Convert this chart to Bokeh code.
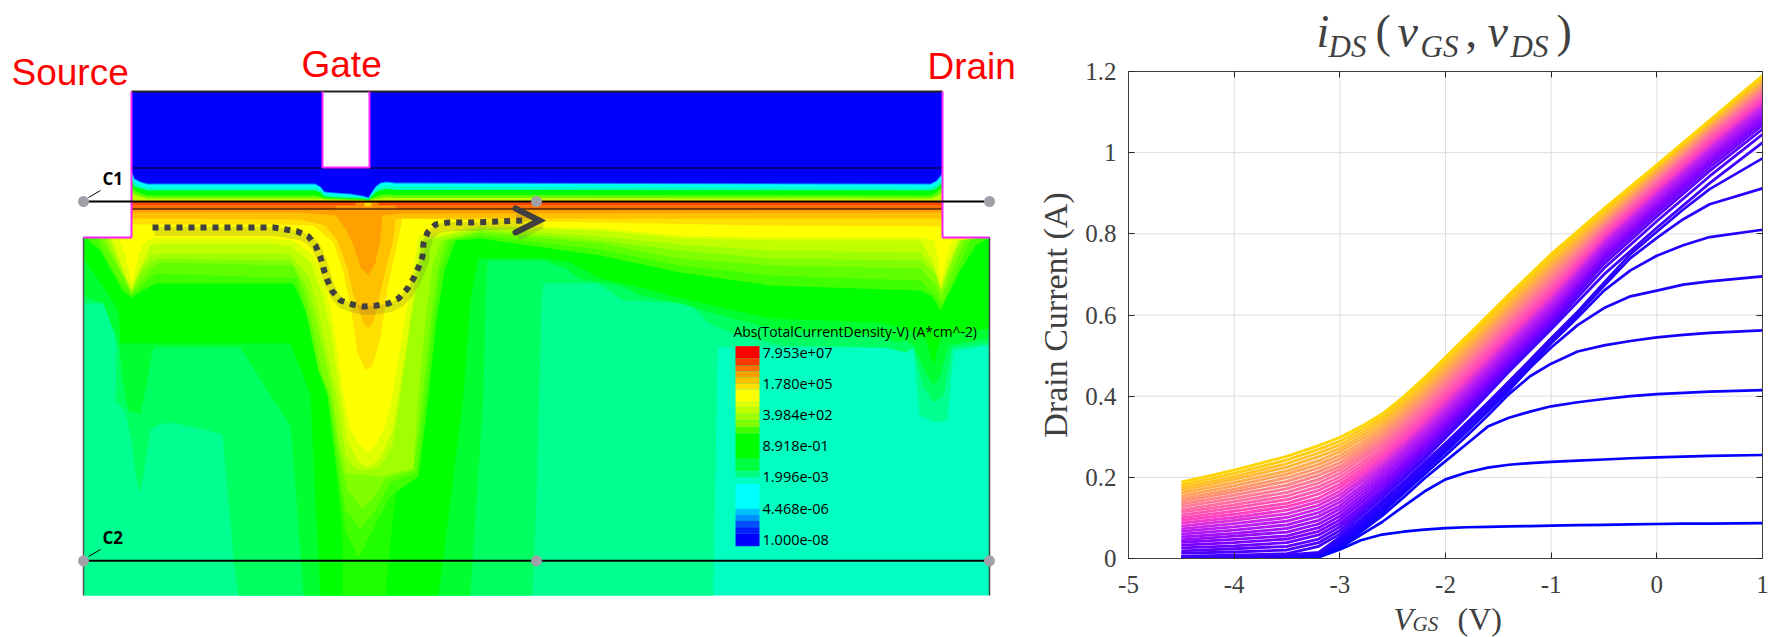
from math import pi
import numpy as np
from bokeh.core.properties import value
from bokeh.embed import file_html
from bokeh.layouts import column, row
from bokeh.models import FixedTicker, Label, LinearAxis, Range1d
from bokeh.plotting import figure
from bokeh.resources import INLINE

# ---------- right panel: values ----------
vgs_low = [-4.5,-4,-3.5,-3.2,-3,-2.8,-2.6,-2.4,-2.2,-2,-1.8,-1.6,-1.4,-1.2,-1,-0.75,-0.5,-0.25,0,0.25,0.5,1]
ids_1 = [0,0,0,.003,.022,.045,.059,.066,.071,.075,.077,.078,.079,.080,.081,.082,.083,.084,.085,.086,.086,.087]
ids_2 = [0,0,.001,.004,.026,.058,.090,.128,.165,.195,.212,.224,.231,.235,.238,.241,.244,.247,.249,.251,.253,.255]
ids_3 = [0,.001,.001,.005,.030,.066,.105,.150,.197,.240,.282,.325,.347,.362,.375,.385,.393,.400,.405,.408,.411,.415]
ids_4 = [.001,.001,.002,.007,.034,.072,.113,.160,.207,.254,.302,.352,.405,.449,.480,.510,.525,.536,.545,.551,.556,.562]
ids_5 = [.001,.002,.003,.009,.038,.078,.120,.167,.215,.263,.312,.362,.414,.470,.520,.575,.617,.646,.660,.675,.683,.695]
ids_6 = [.002,.003,.005,.011,.043,.084,.127,.174,.222,.270,.320,.370,.422,.476,.530,.594,.660,.710,.746,.772,.792,.810]
ids_7 = [.003,.004,.007,.013,.048,.090,.134,.181,.229,.277,.327,.377,.429,.482,.537,.602,.672,.740,.790,.836,.873,.912]
ids_8 = [.004,.006,.009,.015,.053,.096,.141,.188,.236,.284,.334,.384,.436,.489,.543,.608,.680,.750,.805,.860,.910,.986]

# the dense upper fan, estimated one VGS column at a time from its visible hairlines
vgs_fan = [-4.5,-4,-3.5,-3.2,-3,-2.8,-2.6,-2.4,-2.2,-1.8,-1.4,-1,-0.5,0,0.5,1]
fan_m45 = [.006,.013,.019,.026,.033,.040,.046,.053,.060,.067,.073,.080,.087,.094,.100,.107,.114,.120,.127,.134,.141,.147,.154,.161,.168,.174,.181,.188]
fan_m40 = [.008,.016,.024,.031,.039,.047,.055,.062,.070,.078,.086,.094,.101,.109,.117,.125,.132,.140,.148,.156,.164,.171,.179,.187,.195,.202,.210,.218]
fan_m35 = [.012,.021,.030,.039,.048,.056,.065,.074,.083,.092,.101,.110,.119,.128,.136,.145,.154,.163,.172,.181,.190,.199,.208,.216,.225,.234,.243,.252]
fan_m32 = [.030,.039,.048,.058,.067,.076,.085,.094,.104,.113,.122,.131,.140,.149,.159,.168,.177,.186,.195,.205,.214,.223,.232,.241,.251,.260,.269,.278]
fan_m30 = [.060,.069,.078,.086,.095,.104,.113,.122,.130,.139,.148,.157,.166,.175,.183,.192,.201,.210,.219,.227,.236,.245,.254,.263,.271,.280,.289,.298]
fan_m28 = [.105,.113,.121,.129,.138,.146,.154,.162,.170,.178,.187,.195,.203,.211,.219,.227,.235,.244,.252,.260,.268,.276,.284,.293,.301,.309,.317,.325]
fan_m26 = [.150,.158,.165,.173,.181,.188,.196,.203,.211,.219,.226,.234,.242,.249,.257,.264,.272,.280,.287,.295,.303,.310,.318,.325,.333,.341,.348,.356]
fan_m24 = [.197,.204,.212,.219,.227,.234,.242,.249,.257,.264,.271,.279,.286,.294,.301,.309,.316,.323,.331,.338,.346,.353,.361,.368,.376,.383,.391,.398]
fan_m22 = [.245,.252,.260,.267,.275,.282,.289,.297,.304,.312,.319,.326,.334,.341,.349,.356,.364,.371,.378,.386,.393,.401,.408,.415,.423,.430,.438,.445]
fan_m18 = [.350,.357,.365,.372,.379,.386,.394,.401,.408,.416,.423,.430,.438,.445,.452,.459,.467,.474,.481,.489,.496,.503,.511,.518,.525,.532,.540,.547]
fan_m14 = [.460,.467,.474,.481,.488,.495,.502,.509,.516,.523,.530,.537,.544,.551,.559,.566,.573,.580,.587,.594,.601,.608,.615,.622,.629,.636,.643,.650]
fan_m10 = [.565,.572,.579,.586,.592,.599,.606,.613,.620,.627,.634,.640,.647,.654,.661,.668,.675,.681,.688,.695,.702,.709,.716,.723,.729,.736,.743,.750]
fan_m05 = [.700,.715,.726,.735,.743,.750,.756,.762,.768,.774,.780,.786,.791,.796,.801,.806,.811,.816,.820,.824,.829,.833,.838,.842,.847,.852,.857,.862]
fan_p00 = [.815,.831,.843,.852,.860,.867,.873,.879,.885,.891,.897,.903,.908,.913,.918,.923,.928,.933,.937,.941,.945,.949,.953,.957,.961,.964,.967,.970]
fan_p05 = [.925,.942,.955,.964,.972,.979,.986,.992,.998,1.004,1.010,1.016,1.021,1.026,1.031,1.036,1.041,1.046,1.050,1.054,1.058,1.062,1.066,1.069,1.072,1.075,1.078,1.080]
fan_p10 = [1.025,1.045,1.058,1.068,1.076,1.083,1.090,1.096,1.102,1.108,1.114,1.120,1.126,1.131,1.136,1.141,1.146,1.151,1.155,1.159,1.163,1.167,1.171,1.175,1.179,1.183,1.187,1.190]

x_ticks = [-5,-4,-3,-2,-1,0,1]
x_tick_labels = ["-5","-4","-3","-2","-1","0","1"]
y_ticks = [0,0.2,0.4,0.6,0.8,1,1.2]
y_tick_labels = ["0","0.2","0.4","0.6","0.8","1","1.2"]
ramp_pos = [0,.2,.35,.5,.6,.72,.85,1]
ramp_rgb = [(0,0,255),(48,0,255),(128,0,255),(192,32,240),(255,64,192),(255,112,160),(255,160,96),(255,213,0)]

# ---------- left panel: contour boundaries ----------
bands = [
 ("#00ff90",[(83,595),(713,595),(717,347),(885,347),(906,347),(913,347),(919,415),(935,422),(947,420),(953,350),(989,345)]),
 ("#00ff60",[(83,303),(112,303),(116,350),(115,400),(125,412),(131,440),(136,480),(140,492),(146,455),(150,430),(158,424),(170,422),(200,428),(222,434),(226,480),(229,510),(233,560),(238,595),(532,595),(536,500),(541,300),(543,283),(597,283),(623,300),(690,303),(707,322),(730,332),(780,345),(885,347),(905,352),(913,347),(922,385),(933,402),(943,395),(952,347),(989,343)]),
 ("#00ff30",[(83,296),(103,303),(113,330),(119,346),(122,380),(128,411),(140,413),(146,385),(152,350),(155,347),(240,347),(253,368),(270,395),(290,425),(296,500),(303,595),(470,595),(476,500),(483,395),(485,300),(487,260),(543,260),(565,268),(580,279),(620,285),(640,295),(680,303),(713,313),(780,330),(880,335),(895,342),(905,340),(913,345),(925,372),(933,385),(940,375),(948,345),(989,338)]),
 ("#00ff00",[(83,258),(105,290),(118,310),(120,343),(290,343),(297,360),(310,395),(315,500),(320,595),(438,595),(450,500),(463,395),(470,300),(478,258),(543,258),(570,262),(600,278),(640,287),(680,298),(770,318),(880,322),(905,328),(925,338),(933,365),(941,335),(989,328)]),
 ("#20ff00",[(327,395),(335,460),(342,540),(342,595),(385,595),(390,540),(396,490),(418,476),(428,395)]),
 ("#40ff00",[(83,236),(100,250),(112,272),(122,290),(131,297),(142,290),(155,283),(293,283),(305,310),(316,360),(327,395),(335,460),(345,530),(358,557),(372,530),(390,495),(418,476),(428,395),(436,320),(444,270),(455,240),(480,238),(600,255),(680,272),(770,285),(920,290),(932,296),(940,310),(947,296),(960,270),(975,245),(989,237)]),
 ("#60ff00",[(95,236),(108,262),(122,283),(131,295),(142,285),(155,273),(296,278),(308,320),(318,370),(328,395),(336,450),(345,510),(360,528),(375,510),(390,482),(416,472),(425,395),(433,320),(440,270),(450,240),(480,235),(600,249),(680,265),(770,275),(920,280),(935,295),(941,305),(948,290),(960,262),(970,240),(989,236)]),
 ("#80ff00",[(100,237),(114,260),(125,280),(131,293),(140,280),(150,270),(160,262),(292,265),(304,290),(313,330),(322,375),(330,395),(338,450),(347,490),(362,508),(375,495),(385,478),(413,470),(422,395),(430,320),(437,270),(445,240),(480,232),(600,243),(680,258),(770,265),(920,268),(935,285),(941,298),(948,280),(958,255),(966,237),(989,236)]),
 ("#a0ff00",[(104,237),(118,265),(131,292),(142,270),(150,262),(160,258),(290,260),(306,285),(316,320),(325,360),(332,395),(338,440),(346,473),(380,476),(413,468),(418,395),(425,320),(432,265),(440,240),(480,230),(600,240),(680,250),(770,258),(920,260),(935,275),(941,292),(948,270),(956,250),(962,237),(989,236)]),
 ("#c0ff00",[(108,237),(120,265),(131,290),(140,268),(150,255),(160,253),(280,253),(290,255),(308,275),(318,310),(326,350),(336,395),(345,455),(355,468),(367,470),(380,466),(392,445),(400,395),(410,320),(418,280),(426,240),(480,228),(600,236),(680,244),(770,250),(920,252),(935,270),(941,290),(948,268),(955,250),(960,237),(989,236)]),
 ("#e0ff00",[(112,240),(122,268),(131,288),(140,268),(150,245),(160,243),(270,243),(290,245),(310,262),(322,295),(330,330),(336,370),(340,395),(347,440),(358,462),(367,467),(380,458),(392,430),(398,395),(407,340),(415,280),(420,240),(480,226),(600,230),(680,238),(770,240),(920,240),(932,260),(940,288),(948,262),(958,240),(989,236)]),
 ("#ffff00",[(118,238),(125,255),(130,278),(131,283),(133,278),(137,258),(142,245),(150,238),(270,238),(293,240),(313,255),(325,285),(332,320),(338,360),(343,395),(350,430),(360,445),(367,452),(375,445),(385,425),(392,395),(400,345),(408,300),(414,260),(418,235),(480,225),(600,228),(680,235),(770,237),(920,237),(934,240),(938,262),(941,282),(945,262),(950,245),(955,237),(989,236)]),
 ("#ffe000",[(131,224),(270,224),(313,225),(333,242),(343,272),(352,318),(357,352),(365,370),(372,365),(380,338),(387,288),(398,238),(402,218),(480,220),(600,222),(770,225),(942,226)]),
 ("#ffc000",[(131,218),(300,219),(325,225),(337,240),(347,268),(353,295),(363,323),(368,327),(373,322),(383,278),(393,238),(395,218),(942,218)]),
 ("#ffa000",[(131,212),(300,212),(335,215),(345,228),(353,245),(360,267),(368,275),(375,262),(380,238),(382,215),(400,213),(942,212)]),
]
ox_x = [131,134,140,147,315,320,324,335,350,362,368,371,375,380,386,395,930,936,942]
ox_layers = [
 ("#ffff00",[200.5]*19),
 ("#c0ff00",[199.5]*19),
 ("#60ff00",[192,194,196,198,198,198,199,199,199.5,199.5,200,199,198.5,198,197,197.5,198,196,192]),
 ("#00ff00",[186,190,193,195,195,196,197.5,198,198.5,199,199.5,198,196,194.5,194,194.5,195,192,186]),
 ("#00ffc0",[180,186,188,190,190,192,196,197,197.5,198,199,196,192,189.5,188.5,189.5,190,188,182]),
 ("#00ffff",[175,182,185,187,187,189.5,194,195,196,197,198,195,189,186,185,186,187,184,178]),
 ("#0080ff",[171,179,182,184,184,187,192,193,194,196,197.5,193,187,183,182,183,184,181,174]),
 ("#0000ff",[170,178,181,183,183,186,191,192,193,195,197,192,186,182,181,182,183,180,172]),
]
arrow_x = [152,273,297,308,315,320,323,327,332,340,352,363,376,388,398,407,413,418,422,423,427,435,448,472,497,523]
arrow_y = [227,227,231,236,245,257,268,280,291,300,304,306,305,303,298,288,278,267,256,243,232,224,222,222,221,220]
head_x = [515,539,515]
head_y = [208,220,232]

legend_title = "Abs(TotalCurrentDensity-V) (A*cm^-2)"
legend_labels = ["7.953e+07","1.780e+05","3.984e+02","8.918e-01","1.996e-03","4.468e-06","1.000e-08"]
legend_label_y = [352,383,414,445,476,508,539]
swatch_edges = [345.7,357.7,365,371,377,383.3,389,401.7,407.3,414,420,426.7,433.3,458.3,470.7,477,483.3,508.3,514.3,520,526.7,533.3,545.7]
swatch_colors = ["#ff0000","#ff3800","#ff7000","#ffa000","#ffc000","#ffe000","#ffff00","#e0ff00","#c0ff00","#a0ff00","#80ff00","#40ff00","#00ff00","#00ff40","#00ff80","#00ffc0","#00ffff","#00c0ff","#0090ff","#0050ff","#0020ff","#0000ff"]

# ---------- left panel ----------
LW = 1030
L = figure(width=LW, height=637, x_range=Range1d(0,LW), y_range=Range1d(637,0),
           x_axis_type=None, y_axis_type=None, toolbar_location=None, output_backend="svg",
           min_border=0, outline_line_color=None, background_fill_color="white", border_fill_color="white")
L.grid.visible = False

L.quad(left=83, right=989, top=205, bottom=595, fill_color="#00ffc0", line_color=None)
for color, pts in bands:
    xs = [pts[0][0]] + [p[0] for p in pts] + [pts[-1][0]]
    ys = [205] + [p[1] for p in pts] + [205]
    L.patch(xs, ys, fill_color=color, line_color=None)

# white corners outside the device
L.quad(left=[70,942.5], right=[131,1000], top=[165,165], bottom=[236.5,236.5], fill_color="white", line_color=None)

# oxide layers and the body of the barrier
for color, prof in ox_layers:
    top = 91 if color == "#0000ff" else 165
    L.patch([131]+ox_x+[942], [top]+prof+[top], fill_color=color, line_color=None)
L.quad(left=322, right=369, top=88, bottom=167, fill_color="white", line_color=None)

# channel
L.quad(left=131, right=942, top=201.5, bottom=205, fill_color="#ff4a00", line_color=None)
L.quad(left=131, right=942, top=205, bottom=209, fill_color="#ff6c00", line_color=None)
L.quad(left=335, right=395, top=205, bottom=209, fill_color="#ff9000", line_color=None)
L.quad(left=355, right=378, top=202, bottom=205, fill_color="#ff9000", line_color=None)
L.quad(left=364, right=371, top=202, bottom=206, fill_color="#ffd800", line_color=None)

# thin black lines and outline
L.multi_line([[131,942],[131,942]], [[167.5,167.5],[208.5,208.5]], line_color="black", line_width=1)
L.line([131,942],[91,91], line_color="#222222", line_width=2)
L.line([83,83],[237,595], line_color="#555555", line_width=1.5)
L.line([989,989],[237,595], line_color="#444444", line_width=1.5)
pink = "#ff20ff"
L.multi_line([[131,131,83],[322,322,369,369],[942,942,989]],
             [[91,237,237],[91,167,167,91],[91,237,237]], line_color=pink, line_width=2)

# cut lines
for y in (201, 560.3):
    L.line([83,989],[y,y], line_color="black", line_width=2)
    L.scatter([83,536,989],[y,y,y], size=11, fill_color="#a0a0a8", line_color=None)
L.multi_line([[88,100],[88,100]], [[197,190],[556,549]], line_color="black", line_width=1)
for txt_, yy in (("C1",178),("C2",537)):
    L.add_layout(Label(x=102, y=yy, text=txt_, text_font="Open Sans", text_font_size="17px", text_font_style="bold",
                       text_color="black", text_baseline="middle"))

# current arrow
L.line([x+2 for x in arrow_x],[y+4 for y in arrow_y], line_color="#404040", line_alpha=.16, line_width=9)
L.line([x+2 for x in head_x],[y+4 for y in head_y], line_color="#404040", line_alpha=.16, line_width=9)
L.line(arrow_x, arrow_y, line_color="#404040", line_width=6, line_dash="6 6")
L.line(head_x, head_y, line_color="#404040", line_width=6, line_cap="round", line_join="miter")

# electrode names
for txt_, xx, yy in (("Source",11,72),("Gate",301,64),("Drain",927,66)):
    L.add_layout(Label(x=xx, y=yy, text=txt_, text_font="Liberation Sans", text_font_size="37px",
                       text_color="#ff0000", text_baseline="middle"))

# colour legend
L.quad(left=735, right=759, top=swatch_edges[:-1], bottom=swatch_edges[1:],
       fill_color=swatch_colors, line_color=None)
L.add_layout(Label(x=733, y=331, text=legend_title, text_font="Open Sans", text_font_size="13.9px",
                   text_color="black", text_baseline="middle"))
for txt_, yy in zip(legend_labels, legend_label_y):
    L.add_layout(Label(x=762, y=yy, text=txt_, text_font="Open Sans", text_font_size="14.5px",
                       text_color="black", text_baseline="middle"))

# ---------- right panel ----------
BL, BR = 1128-LW, 1774-1762
ink = "#404040"
TOP_H, OVERLAP, BOT_H = 68, 11, 37

# strip above the plot, in page pixels; it runs a little under the plot's transparent top border
T = figure(width=1774-LW, height=TOP_H, x_range=Range1d(1128,1762), y_range=Range1d(TOP_H,0),
           x_axis_type=None, y_axis_type=None, toolbar_location=None, output_backend="svg",
           min_border_left=BL, min_border_right=BR, min_border_top=0, min_border_bottom=0,
           outline_line_color=None, margin=(0,0,-OVERLAP,0))
T.grid.visible = False
title_x = [1316,1328,1375,1397,1420,1465,1487,1510,1556]
title_y = [31,46,31,31,46,31,31,46,31]
title_s = ["i","DS","(","v","GS",",","v","DS",")"]
title_size = ["46px","31px","46px","46px","31px","46px","46px","31px","46px"]
title_style = ["italic","italic","normal","italic","italic","normal","italic","italic","normal"]
for x_, y_, s_, z_, st_ in zip(title_x, title_y, title_s, title_size, title_style):
    T.text([x_],[y_],text=[s_],text_font=value("Liberation Serif"),text_font_size=value(z_),
           text_font_style=st_,text_color=ink,text_baseline="middle")

R = figure(width=1774-LW, height=637-(TOP_H-OVERLAP)-BOT_H, x_range=Range1d(-5,1), y_range=Range1d(0,1.2),
           x_axis_type=None, y_axis_type=None, toolbar_location=None, output_backend="svg",
           min_border_left=BL, min_border_right=BR, min_border_top=14, min_border_bottom=42,
           outline_line_color=None, background_fill_color="white", border_fill_color=None)
for side, ticks in (("below",x_ticks),("above",x_ticks),("left",y_ticks),("right",y_ticks)):
    ax = LinearAxis(ticker=FixedTicker(ticks=ticks), axis_line_color=ink, axis_line_width=1,
                    major_tick_line_color="#262626", major_tick_in=6, major_tick_out=0,
                    minor_tick_line_color=None, major_label_text_font="Liberation Serif",
                    major_label_text_font_size="25px", major_label_text_color=ink, major_label_standoff=12)
    if side == "left":
        ax.major_label_overrides = {t: s for t, s in zip(y_ticks, y_tick_labels)}
        ax.axis_label = "Drain Current (A)"
        ax.axis_label_text_font = "Liberation Serif"
        ax.axis_label_text_font_size = "34px"
        ax.axis_label_text_font_style = "normal"
        ax.axis_label_text_color = ink
        ax.axis_label_standoff = 8
    if side == "below":
        ax.major_label_overrides = {t: s for t, s in zip(x_ticks, x_tick_labels)}
        ax.major_label_standoff = 17
    if side in ("above","right"):
        ax.major_label_text_font_size = "0px"
        ax.major_label_standoff = 0
        ax.major_label_text_color = None
    R.add_layout(ax, side)
x_grid_vals = x_ticks[1:-1]
R.segment(x0=x_grid_vals, x1=x_grid_vals, y0=0, y1=1.2, line_color="#dedede", line_width=1)
y_grid_vals = y_ticks[1:-1]
R.segment(x0=-5, x1=1, y0=y_grid_vals, y1=y_grid_vals, line_color="#dedede", line_width=1)

low_curves = [ids_1,ids_2,ids_3,ids_4,ids_5,ids_6,ids_7,ids_8]
fan_columns = [fan_m45,fan_m40,fan_m35,fan_m32,fan_m30,fan_m28,fan_m26,fan_m24,fan_m22,fan_m18,fan_m14,fan_m10,fan_m05,fan_p00,fan_p05,fan_p10]
fan_curves = [list(c) for c in zip(*fan_columns)]
n = len(low_curves) + len(fan_curves)
def ramp(i):
    t = i/(n-1)
    rgb = [int(round(np.interp(t, ramp_pos, [c[k] for c in ramp_rgb]))) for k in range(3)]
    return "#%02x%02x%02x" % tuple(rgb)
for i, ys in enumerate(low_curves):
    R.line(vgs_low, ys, line_color=ramp(i), line_width=2.7, line_join="round")
for j, ys in enumerate(fan_curves):
    R.line(vgs_fan, ys, line_color=ramp(j+len(low_curves)), line_width=2.8, line_join="round")

# strip below the plot, in page pixels
X = figure(width=1774-LW, height=BOT_H, x_range=Range1d(1128,1762), y_range=Range1d(637,600),
           x_axis_type=None, y_axis_type=None, toolbar_location=None, output_backend="svg",
           min_border_left=BL, min_border_right=BR, min_border_top=0, min_border_bottom=0,
           outline_line_color=None)
X.grid.visible = False
xlab_x = [1393,1412,1457]
xlab_y = [618,623,618]
xlab_s = ["V","GS","(V)"]
xlab_size = ["32px","21px","32px"]
xlab_style = ["italic","italic","normal"]
for x_, y_, s_, z_, st_ in zip(xlab_x, xlab_y, xlab_s, xlab_size, xlab_style):
    X.text([x_],[y_],text=[s_],text_font=value("Liberation Serif"),text_font_size=value(z_),
           text_font_style=st_,text_color=ink,text_baseline="middle")

open("out.html","w").write(file_html(row(L, column(column(T),R,column(X))), INLINE))
